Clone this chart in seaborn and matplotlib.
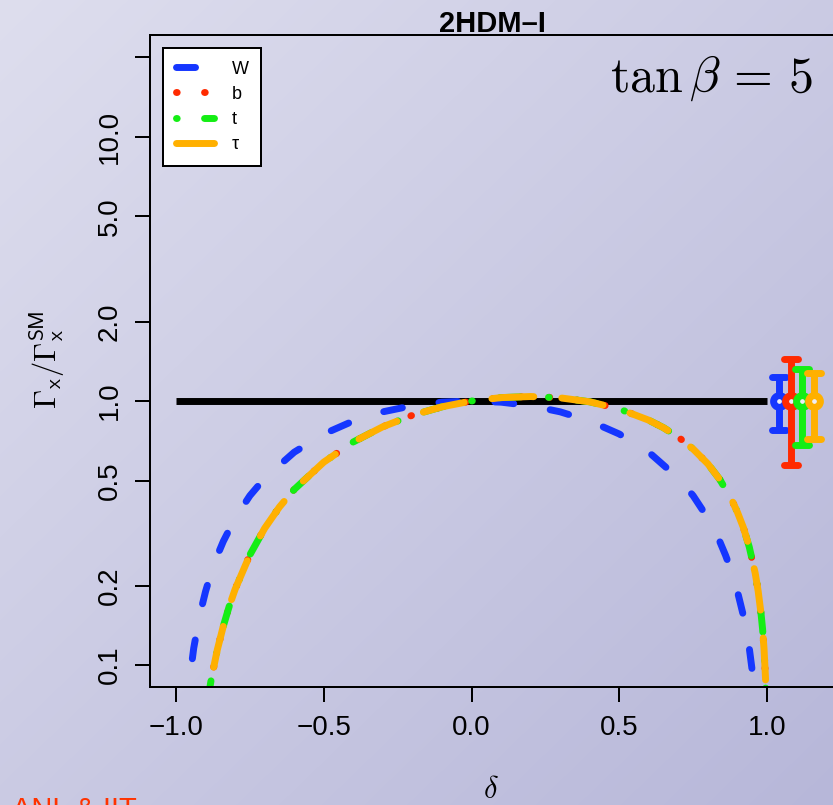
import numpy as np
import matplotlib
matplotlib.use("Agg")
import matplotlib.pyplot as plt
import seaborn as sns
from matplotlib.lines import Line2D
from matplotlib.markers import MarkerStyle

# ---------------------------------------------------------------
# Higgs partial widths relative to the SM, 2HDM type I, tan(beta)=5
# ---------------------------------------------------------------
# gauge boson channel
w_delta = [-0.98, -0.96, -0.94, -0.92, -0.90, -0.88, -0.86, -0.84, -0.80,
           -0.75, -0.70, -0.60, -0.50, -0.40, -0.30, -0.20, -0.10, 0.00,
           0.10, 0.20, 0.30, 0.40, 0.50, 0.60, 0.70, 0.75, 0.80, 0.84,
           0.86, 0.88, 0.90, 0.92, 0.94, 0.96, 0.98]
w_ratio = [0.040, 0.078, 0.116, 0.154, 0.190, 0.226, 0.260, 0.294, 0.360,
           0.438, 0.510, 0.640, 0.750, 0.840, 0.910, 0.960, 0.990, 1.000,
           0.990, 0.960, 0.910, 0.840, 0.750, 0.640, 0.510, 0.438, 0.360,
           0.294, 0.260, 0.226, 0.190, 0.154, 0.116, 0.078, 0.040]

# fermion channels (in type I all fermions share one coupling)
f_delta = [-0.96, -0.94, -0.92, -0.90, -0.88, -0.86, -0.84, -0.82, -0.80,
           -0.75, -0.70, -0.65, -0.60, -0.50, -0.40, -0.30, -0.20, -0.10,
           0.00, 0.10, 0.20, 0.30, 0.40, 0.50, 0.60, 0.65, 0.70, 0.75,
           0.80, 0.84, 0.88, 0.90, 0.92, 0.94, 0.96, 0.97, 0.98, 0.985,
           0.99, 0.995, 1.00]
b_ratio = [0.0077, 0.0235, 0.0432, 0.0655, 0.0894, 0.1145, 0.1403, 0.1668,
           0.1936, 0.2615, 0.3296, 0.3968, 0.4624, 0.5868, 0.6998, 0.7991,
           0.8832, 0.9506, 1.000, 1.030, 1.040, 1.028, 0.993, 0.933, 0.846,
           0.792, 0.730, 0.658, 0.578, 0.505, 0.424, 0.379, 0.332, 0.280,
           0.223, 0.191, 0.156, 0.137, 0.115, 0.089, 0.040]
t_ratio = list(b_ratio)
tau_ratio = list(b_ratio)

# SM reference line
sm_delta = [-1.0, 1.0]
sm_ratio = [1.0, 1.0]

# projected measurements (central value and band)
meas_delta = [1.04, 1.08, 1.12, 1.16]
meas_central = [1.0, 1.0, 1.0, 1.0]
meas_low = [0.78, 0.57, 0.68, 0.72]
meas_high = [1.23, 1.44, 1.32, 1.28]

channel_labels = ["W", "b", "t", "\u03c4"]
y_ticks = [0.1, 0.2, 0.5, 1.0, 2.0, 5.0, 10.0, 20.0]
y_tick_labels = ["0.1", "0.2", "0.5", "1.0", "2.0", "5.0", "10.0", ""]
x_ticks = [-1.0, -0.5, 0.0, 0.5, 1.0]
x_tick_labels = ["\u22121.0", "\u22120.5", "0.0", "0.5", "1.0"]

# ---------------------------------------------------------------
sns.set_theme(style="ticks")
plt.rcParams["font.family"] = ["Liberation Sans", "DejaVu Sans"]
plt.rcParams["mathtext.fontset"] = "cm"
plt.rcParams["lines.scale_dashes"] = False
plt.rcParams["text.color"] = "black"
plt.rcParams["axes.labelcolor"] = "black"

COLORS = ["#1536ff", "#ff2a00", "#14ee14", "#ffb000"]
LW = 5.0
# dash patterns in points: dashed, dotted, dot-dash, long-dash
DASHES = [(13.7, 26.6), (0.5, 19.7), (0.5, 19.7, 15.1, 20.2), (30.2, 20.2)]

W_PX, H_PX = 833, 805
fig = plt.figure(figsize=(W_PX / 100, H_PX / 100), dpi=100)

# soft diagonal lavender backdrop
bg = fig.add_axes([0, 0, 1, 1], zorder=-10)
yy, xx = np.mgrid[0:H_PX, 0:W_PX]
frac = (xx / W_PX + yy / H_PX) / 2.0
top_left = np.array([222, 222, 238]) / 255.0
bottom_right = np.array([183, 183, 217]) / 255.0
bg.imshow(top_left + (bottom_right - top_left) * frac[..., None],
          aspect="auto", extent=[0, 1, 0, 1], origin="upper")
bg.set_axis_off()

ax = fig.add_axes([150 / W_PX, 118 / H_PX, 686 / W_PX, 652 / H_PX])
ax.set_facecolor("none")
ax.set_yscale("log")

# SM line
sns.lineplot(x=sm_delta, y=sm_ratio, ax=ax, color="black", linewidth=LW,
             estimator=None, sort=False, legend=False)
ax.lines[-1].set_solid_capstyle("butt")

series = [(w_delta, w_ratio), (f_delta, b_ratio), (f_delta, t_ratio),
          (f_delta, tau_ratio)]
handles = []
for (xs, ys), col, dash in zip(series, COLORS, DASHES):
    sns.lineplot(x=xs, y=ys, ax=ax, color=col, linewidth=LW,
                 estimator=None, sort=False, legend=False)
    ln = ax.lines[-1]
    ln.set_dashes(dash)
    ln.set_dash_capstyle("round")
    ln.set_solid_capstyle("round")
    h = Line2D([], [], color=col, linewidth=LW)
    h.set_dashes(dash)
    h.set_dash_capstyle("round")
    handles.append(h)

# measurement error bars: vertical band, rounded caps, open ring marker
for xv, yc, lo, hi, col in zip(meas_delta, meas_central, meas_low,
                               meas_high, COLORS):
    eb = ax.errorbar([xv], [yc], yerr=[[yc - lo], [hi - yc]], fmt="none",
                     ecolor=col, elinewidth=LW, capsize=7.2, capthick=LW,
                     zorder=5)
    for cap in eb[1]:
        cap.set_marker(MarkerStyle("_", capstyle="round"))
        cap.set_markersize(9.4)
    ax.plot([xv], [yc], linestyle="none", marker="o", markersize=8.5,
            markerfacecolor="#eeeef6", markeredgecolor=col,
            markeredgewidth=LW, zorder=6)

ax.set_xlim(-1.088, 1.2335)
ax.set_ylim(10 ** -1.083, 10 ** 1.386)
ax.set_xticks(x_ticks)
ax.set_xticklabels(x_tick_labels)
ax.set_yticks(y_ticks)
ax.set_yticklabels(y_tick_labels)
ax.yaxis.set_minor_locator(matplotlib.ticker.NullLocator())
ax.tick_params(axis="both", which="major", length=10.8, width=1.44,
               pad=9, labelsize=20, color="black", labelcolor="black",
               direction="out")
for lab in ax.get_yticklabels():
    lab.set_rotation(90)
    lab.set_va("center")
for sp in ax.spines.values():
    sp.set_linewidth(1.44)
    sp.set_color("black")
ax.grid(False)

leg = ax.legend(handles, channel_labels, loc="upper left",
                bbox_to_anchor=(13 / 686, 1 - 13 / 652), borderaxespad=0,
                frameon=True, fancybox=False, edgecolor="black",
                facecolor="white", framealpha=1, fontsize=13,
                handlelength=2.1, handletextpad=1.0, borderpad=0.7,
                labelspacing=0.45)
leg.get_frame().set_linewidth(1.44)

# annotations
fig.text(492.5 / W_PX, 1 - 32 / H_PX, "2HDM\u2013I", fontsize=21,
         fontweight="bold", ha="center", va="baseline")
fig.text(610 / W_PX, 1 - 92 / H_PX, r"$\tan\beta \,=\, 5$", fontsize=36,
         ha="left", va="baseline")
fig.text(47 / W_PX, 1 - 360 / H_PX,
         r"$\Gamma_{\mathsf{x}}/\Gamma_{\mathsf{x}}^{\mathsf{SM}}$",
         fontsize=22, rotation=90, ha="center", va="center")
fig.text(491 / W_PX, 1 - 790 / H_PX, r"$\delta$", fontsize=22,
         ha="center", va="center")
fig.text(12 / W_PX, -13 / H_PX, "ANL & IIT", fontsize=21, color="#ff3300",
         ha="left", va="baseline")

fig.savefig("out.png", dpi=100)
